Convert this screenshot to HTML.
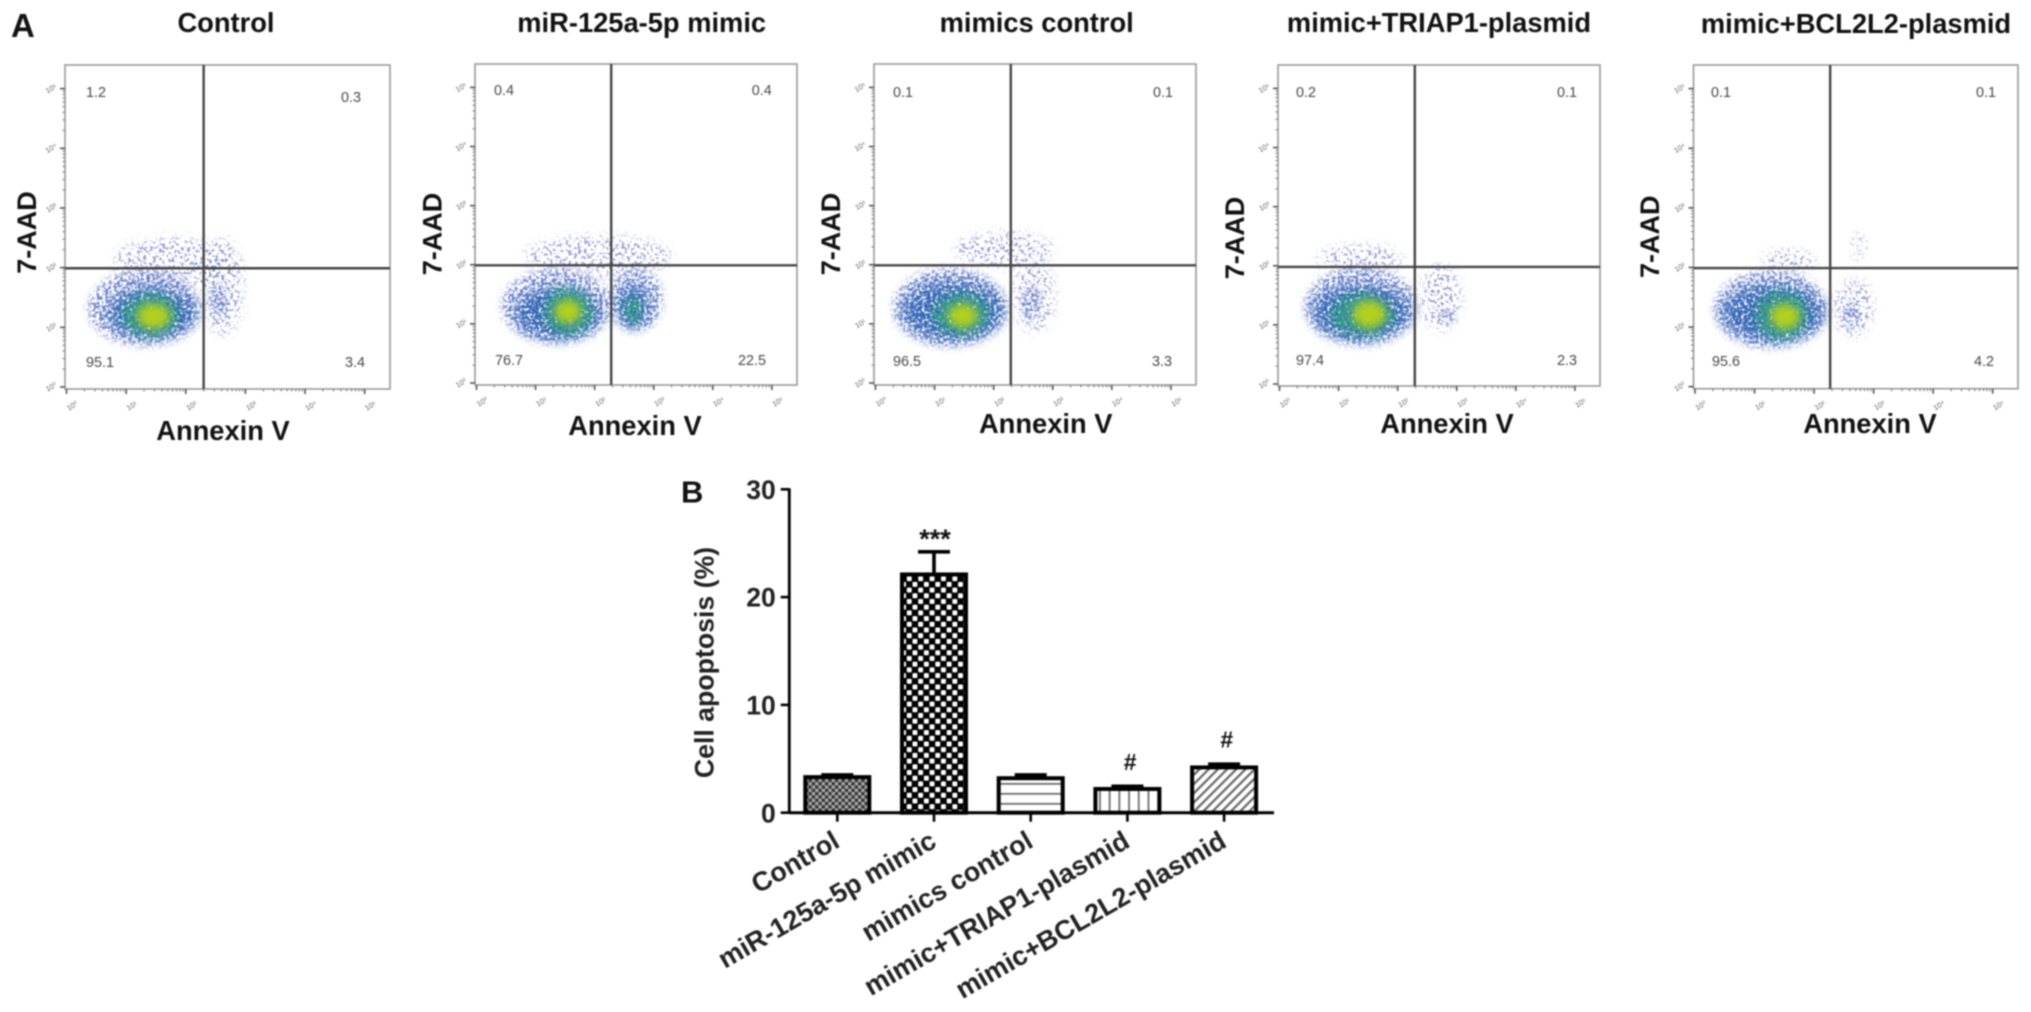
<!DOCTYPE html>
<html>
<head>
<meta charset="utf-8">
<title>Annexin V apoptosis flow cytometry and bar chart</title>
<style>
html,body{margin:0;padding:0;background:#fff;}
#figure{display:block;width:2031px;height:1012px;filter:blur(0.7px);font-family:"Liberation Sans",Arial,sans-serif;}
text{font-family:"Liberation Sans",Arial,sans-serif;}
</style>
</head>
<body>
<svg id="figure" xmlns="http://www.w3.org/2000/svg" width="2031" height="1012" viewBox="0 0 2031 1012">
<defs>
<filter id="speckle-very-sparse" x="-30%" y="-30%" width="160%" height="160%" color-interpolation-filters="sRGB">
<feGaussianBlur in="SourceGraphic" stdDeviation="5" result="soft"/>
<feTurbulence type="fractalNoise" baseFrequency="0.32" numOctaves="2" seed="7" result="noise"/>
<feColorMatrix in="noise" type="matrix" values="0 0 0 0 0 0 0 0 0 0 0 0 0 0 0 12 0 0 0 -6.5" result="mask"/>
<feComposite in="soft" in2="mask" operator="in"/>
</filter>
<filter id="speckle-sparse" x="-30%" y="-30%" width="160%" height="160%" color-interpolation-filters="sRGB">
<feGaussianBlur in="SourceGraphic" stdDeviation="4" result="soft"/>
<feTurbulence type="fractalNoise" baseFrequency="0.34" numOctaves="2" seed="11" result="noise"/>
<feColorMatrix in="noise" type="matrix" values="0 0 0 0 0 0 0 0 0 0 0 0 0 0 0 12 0 0 0 -5.7" result="mask"/>
<feComposite in="soft" in2="mask" operator="in"/>
</filter>
<filter id="speckle-dense" x="-30%" y="-30%" width="160%" height="160%" color-interpolation-filters="sRGB">
<feGaussianBlur in="SourceGraphic" stdDeviation="6" result="soft"/>
<feTurbulence type="fractalNoise" baseFrequency="0.36" numOctaves="2" seed="23" result="noise"/>
<feColorMatrix in="noise" type="matrix" values="0 0 0 0 0 0 0 0 0 0 0 0 0 0 0 9 0 0 0 -3.6" result="mask"/>
<feComposite in="soft" in2="mask" operator="in"/>
</filter>
<filter id="soft-core" x="-50%" y="-50%" width="200%" height="200%" color-interpolation-filters="sRGB">
<feGaussianBlur in="SourceGraphic" stdDeviation="4.5" result="soft"/>
<feTurbulence type="fractalNoise" baseFrequency="0.3" numOctaves="2" seed="31" result="noise"/>
<feColorMatrix in="noise" type="matrix" values="0 0 0 0 0 0 0 0 0 0 0 0 0 0 0 8 0 0 0 -2.9" result="mask"/>
<feComposite in="soft" in2="mask" operator="in"/>
</filter>
<filter id="soft-peak" x="-50%" y="-50%" width="200%" height="200%" color-interpolation-filters="sRGB">
<feGaussianBlur stdDeviation="4.5"/>
</filter>
<pattern id="fill-fine-check" width="6.6" height="6.6" patternUnits="userSpaceOnUse">
<rect width="6.6" height="6.6" fill="#333"/>
<rect x="0" y="0" width="3.3" height="3.3" fill="#aaa"/>
<rect x="3.3" y="3.3" width="3.3" height="3.3" fill="#aaa"/>
</pattern>
<pattern id="fill-coarse-check" width="11.4" height="11.4" patternUnits="userSpaceOnUse">
<rect width="11.4" height="11.4" fill="#000"/>
<rect x="0.5" y="0.5" width="4.9" height="4.9" rx="1" fill="#fff"/>
<rect x="6.2" y="6.2" width="4.9" height="4.9" rx="1" fill="#fff"/>
</pattern>
<pattern id="fill-horizontal" width="10" height="10" patternUnits="userSpaceOnUse">
<rect width="10" height="10" fill="#fff"/>
<rect y="3" width="10" height="1.7" fill="#666"/>
</pattern>
<pattern id="fill-vertical" width="9.7" height="10" patternUnits="userSpaceOnUse">
<rect width="9.7" height="10" fill="#fff"/>
<rect x="3" width="1.7" height="10" fill="#666"/>
</pattern>
<pattern id="fill-diagonal" width="6.5" height="6.5" patternUnits="userSpaceOnUse" patternTransform="rotate(-45)">
<rect width="6.5" height="6.5" fill="#fff"/>
<rect y="0" width="6.5" height="2.2" fill="#666"/>
</pattern>
</defs>
<rect width="2031" height="1012" fill="#fff"/>
<text x="11" y="37" font-size="33" font-weight="700" fill="#111">A</text>
<text x="681" y="502.7" font-size="31" font-weight="700" fill="#111">B</text>
<g id="flow-panels"></g>
<g id="bar-chart"></g>
</svg>
<script>
// ---------- Flow cytometry values ----------
const panelTitles = ['Control', 'miR-125a-5p mimic', 'mimics control', 'mimic+TRIAP1-plasmid', 'mimic+BCL2L2-plasmid'];
const upperLeftPct = ['1.2', '0.4', '0.1', '0.2', '0.1'];
const upperRightPct = ['0.3', '0.4', '0.1', '0.1', '0.1'];
const lowerLeftPct = ['95.1', '76.7', '96.5', '97.4', '95.6'];
const lowerRightPct = ['3.4', '22.5', '3.3', '2.3', '4.2'];
const logTickLabels = ['10⁰', '10¹', '10²', '10³', '10⁴', '10⁵'];
const gateAnnexin = [2.30, 2.28, 2.29, 2.29, 2.27];
const gateAad = [1.99, 1.99, 1.99, 1.98, 1.99];
// Each population: [log Annexin V centre, log 7-AAD centre, log spread x, log spread y, density level 0-4]
const populationsControl = [
  [1.79, 2.08, 1.00, 0.42, 0], [2.63, 1.68, 0.34, 0.81, 0], [1.30, 1.32, 0.94, 0.63, 1],
  [1.43, 1.24, 0.76, 0.42, 2], [2.55, 1.46, 0.14, 0.28, 1], [1.41, 1.21, 0.48, 0.36, 3], [1.46, 1.19, 0.28, 0.21, 4]
];
const populationsMimic = [
  [2.06, 2.14, 1.24, 0.34, 0], [2.70, 1.41, 0.45, 0.53, 1], [1.35, 1.30, 0.93, 0.62, 1],
  [1.38, 1.18, 0.73, 0.45, 2], [2.65, 1.30, 0.28, 0.37, 2], [1.55, 1.21, 0.42, 0.39, 3],
  [2.65, 1.24, 0.14, 0.23, 3], [1.55, 1.21, 0.23, 0.20, 4]
];
const populationsMimicsControl = [
  [2.18, 2.26, 0.84, 0.28, 0], [2.69, 1.48, 0.34, 0.62, 0], [1.26, 1.28, 0.96, 0.66, 1],
  [1.31, 1.22, 0.87, 0.51, 2], [2.64, 1.36, 0.14, 0.28, 1], [1.45, 1.17, 0.48, 0.36, 3], [1.48, 1.14, 0.25, 0.20, 4]
];
const populationsTriap = [
  [1.38, 2.11, 0.73, 0.23, 0], [2.73, 1.46, 0.34, 0.56, 0], [1.38, 1.32, 0.95, 0.65, 1],
  [1.38, 1.21, 0.84, 0.48, 2], [2.84, 1.15, 0.11, 0.11, 1], [1.41, 1.18, 0.54, 0.36, 3], [1.52, 1.18, 0.28, 0.23, 4]
];
const populationsBcl = [
  [1.57, 2.11, 0.45, 0.17, 0], [2.75, 2.35, 0.10, 0.22, 0], [2.66, 1.32, 0.33, 0.48, 0],
  [1.27, 1.30, 0.95, 0.65, 1], [1.31, 1.24, 0.87, 0.48, 2], [2.61, 1.21, 0.11, 0.20, 1],
  [1.45, 1.21, 0.45, 0.41, 3], [1.51, 1.18, 0.25, 0.21, 4]
];
const panelPopulations = [populationsControl, populationsMimic, populationsMimicsControl, populationsTriap, populationsBcl];
const minorLogSteps = [2, 3, 4, 5, 6, 7, 8, 9];

// ---------- Bar chart values ----------
const barCategories = ['Control', 'miR-125a-5p mimic', 'mimics control', 'mimic+TRIAP1-plasmid', 'mimic+BCL2L2-plasmid'];
const barValues = [3.3, 22.1, 3.2, 2.2, 4.2];
const barErrors = [0.2, 2.1, 0.3, 0.25, 0.3];
const barAnnotations = ['', '***', '', '#', '#'];
const yTickValues = [0, 10, 20, 30];

// ---------- Layout (page geometry, separate from data) ----------
const frameLefts = [65, 475, 874, 1278, 1693.5];
const frameRights = [390, 797, 1196, 1600, 2018];
const frameTops = [65, 64, 64, 65, 65];
const frameBottoms = [389, 385, 385, 386, 388.7];
const titleCenters = [226, 641.7, 1036.7, 1439, 1856];
const titleBaselines = [32, 32, 32, 32, 33];
const xTitleCenters = [223, 635, 1045.7, 1447, 1870];
const xTitleBaselines = [440, 435, 433, 433, 433];
const yTitleBaselines = [36, 441.7, 840, 1244, 1659];
const yTitleCenters = [232.5, 234, 234, 238, 236.7];
const labelUpperLeftX = [86, 494, 893, 1296, 1711];
const labelUpperRightX = [341, 751.7, 1153, 1557, 1976];
const labelLowerLeftX = [86, 495, 893, 1296, 1712];
const labelLowerRightX = [345, 738, 1152, 1557, 1974];
const labelUpperLeftY = [97, 95, 97, 97, 97];
const labelUpperRightY = [102, 95, 97, 97, 97];
const labelLowerY = [367, 365, 366, 365, 366];
const levelColors = ['#7f88c8', '#5a70c4', '#2a62b4', '#2f9f84', '#b2d01e'];
const levelFilters = ['speckle-very-sparse', 'speckle-sparse', 'speckle-dense', 'soft-core', 'soft-peak'];
const levelOpacity = [0.8, 0.85, 0.95, 0.95, 1];
const levelNames = ['very-sparse', 'sparse', 'dense', 'core', 'peak'];

const SVGNS = 'http://www.w3.org/2000/svg';
function make(tag, parent, attrs, text) {
  const el = document.createElementNS(SVGNS, tag);
  for (const k in attrs) el.setAttribute(k, attrs[k]);
  if (text !== undefined) el.textContent = text;
  parent.appendChild(el);
  return el;
}

const flowRoot = document.getElementById('flow-panels');
const X_DECADES = 5.45, Y_DECADES = 5.43;

panelTitles.forEach(function (title, p) {
  const L = frameLefts[p], R = frameRights[p], T = frameTops[p], B = frameBottoms[p];
  const pxPerX = (R - L) / X_DECADES, pxPerY = (B - T) / Y_DECADES;
  const xScale = function (d) { return L + 1.5 + d * pxPerX; };
  const yScale = function (d) { return B - 2 - d * pxPerY; };

  const g = make('g', flowRoot, {});
  
  

  const titleEl = make('text', g, { x: titleCenters[p], y: titleBaselines[p], 'text-anchor': 'middle', 'font-size': 27.3, 'font-weight': 700, fill: '#111' }, title);
  
  

  const popGroup = make('g', g, {});
  
  
  panelPopulations[p].forEach(function (pop) {
    const e = make('ellipse', popGroup, {
      cx: xScale(pop[0]), cy: yScale(pop[1]),
      rx: pop[2] * pxPerX, ry: pop[3] * pxPerY,
      fill: levelColors[pop[4]], opacity: levelOpacity[pop[4]],
      filter: 'url(#' + levelFilters[pop[4]] + ')'
    });
    
    
  });

  const frame = make('rect', g, { x: L, y: T, width: R - L, height: B - T, fill: 'none', stroke: '#9a9a9a', 'stroke-width': 1.6 });
  
  

  const axes = make('g', g, { stroke: '#777', 'stroke-width': 1 });
  
  
  logTickLabels.forEach(function (lab, d) {
    const tx = xScale(d), ty = yScale(d);
    make('line', axes, { x1: tx, x2: tx, y1: B, y2: B + 5, 'stroke-width': 1.6, stroke: '#555' });
    make('line', axes, { x1: L, x2: L - 5, y1: ty, y2: ty, 'stroke-width': 1.6, stroke: '#555' });
    if (d < 5) {
      minorLogSteps.forEach(function (m) {
        const mx = xScale(d + Math.log10(m)), my = yScale(d + Math.log10(m));
        make('line', axes, { x1: mx, x2: mx, y1: B, y2: B + 2.5 });
        make('line', axes, { x1: L, x2: L - 2.5, y1: my, y2: my });
      });
    }
    const xLab = make('text', g, { x: tx + 7, y: B + 19, 'text-anchor': 'middle', 'font-size': 7.5, fill: '#666', transform: 'rotate(-30 ' + (tx + 7) + ' ' + (B + 19) + ')' }, lab);
    
    
    const yLab = make('text', g, { x: L - 8, y: ty + 2, 'text-anchor': 'end', 'font-size': 7.5, fill: '#666', transform: 'rotate(-30 ' + (L - 13) + ' ' + ty + ')' }, lab);
    
    
  });

  const vGate = make('line', g, { x1: xScale(gateAnnexin[p]), x2: xScale(gateAnnexin[p]), y1: T, y2: B, stroke: '#444', 'stroke-width': 2.4 });
  
  
  const hGate = make('line', g, { x1: L, x2: R, y1: yScale(gateAad[p]), y2: yScale(gateAad[p]), stroke: '#444', 'stroke-width': 2.4 });
  
  

  const pctStyle = { 'font-size': 14.4, fill: '#484848' };
  const ul = make('text', g, Object.assign({ x: labelUpperLeftX[p], y: labelUpperLeftY[p] }, pctStyle), upperLeftPct[p]);
  
  
  const ur = make('text', g, Object.assign({ x: labelUpperRightX[p], y: labelUpperRightY[p] }, pctStyle), upperRightPct[p]);
  
  
  const ll = make('text', g, Object.assign({ x: labelLowerLeftX[p], y: labelLowerY[p] }, pctStyle), lowerLeftPct[p]);
  
  
  const lr = make('text', g, Object.assign({ x: labelLowerRightX[p], y: labelLowerY[p] }, pctStyle), lowerRightPct[p]);
  
  

  const xt = make('text', g, { x: xTitleCenters[p], y: xTitleBaselines[p], 'text-anchor': 'middle', 'font-size': 27.3, 'font-weight': 700, fill: '#111' }, 'Annexin V');
  
  
  const yt = make('text', g, { x: yTitleBaselines[p], y: yTitleCenters[p], 'text-anchor': 'middle', 'font-size': 27, 'font-weight': 700, fill: '#111', transform: 'rotate(-90 ' + yTitleBaselines[p] + ' ' + yTitleCenters[p] + ')' }, '7-AAD');
  
  
});

// ---------- Bar chart ----------
const barRoot = document.getElementById('bar-chart');
const barFills = ['fill-fine-check', 'fill-coarse-check', 'fill-horizontal', 'fill-vertical', 'fill-diagonal'];
const AXIS_X = 789.3, AXIS_Y = 812.7, PX_PER_UNIT = 10.78, FIRST_BAR = 837.3, BAR_STEP = 96.7, BAR_W = 64;
const barY = function (v) { return AXIS_Y - v * PX_PER_UNIT; };
const barX = function (i) { return FIRST_BAR + i * BAR_STEP; };

barValues.forEach(function (v, i) {
  const cx = barX(i);
  const g = make('g', barRoot, {});
  
  
  const err = make('path', g, {
    d: 'M' + cx + ' ' + barY(v) + 'V' + barY(v + barErrors[i]) + 'M' + (cx - 16) + ' ' + barY(v + barErrors[i]) + 'H' + (cx + 16),
    fill: 'none', stroke: '#000', 'stroke-width': 3.6
  });
  
  
  const bar = make('rect', g, { x: cx - BAR_W / 2, y: barY(v), width: BAR_W, height: AXIS_Y - barY(v), fill: 'url(#' + barFills[i] + ')', stroke: '#000', 'stroke-width': 4 });
  
  
  const tick = make('line', g, { x1: cx, x2: cx, y1: AXIS_Y, y2: AXIS_Y + 9, stroke: '#000', 'stroke-width': 2.6 });
  
  
  const lx = cx + 4, ly = 846;
  const lab = make('text', g, { x: lx, y: ly, 'text-anchor': 'end', 'font-size': 27, 'font-weight': 700, fill: '#222', transform: 'rotate(-30 ' + lx + ' ' + ly + ')' }, barCategories[i]);
  
  
  if (barAnnotations[i]) {
    const isStar = barAnnotations[i] === '***';
    const ay = barY(v + barErrors[i]) - (isStar ? 4 : 16.5);
    const a = make('text', g, { x: cx + (isStar ? 1 : 2.7), y: ay, 'text-anchor': 'middle', 'font-size': isStar ? 27 : 23, 'font-weight': 700, fill: '#111' }, barAnnotations[i]);
    
    
  }
});

const yAxis = make('line', barRoot, { x1: AXIS_X, x2: AXIS_X, y1: barY(30) - 1, y2: AXIS_Y + 1, stroke: '#000', 'stroke-width': 2.8 });


const xAxis = make('line', barRoot, { x1: AXIS_X, x2: 1274, y1: AXIS_Y, y2: AXIS_Y, stroke: '#000', 'stroke-width': 3 });


yTickValues.forEach(function (t) {
  const tickEl = make('line', barRoot, { x1: 780.7, x2: AXIS_X, y1: barY(t), y2: barY(t), stroke: '#000', 'stroke-width': 2.6 });
  
  
  const lab = make('text', barRoot, { x: 775.7, y: barY(t) + 9.6, 'text-anchor': 'end', 'font-size': 26.5, 'font-weight': 700, fill: '#222' }, String(t));
  
  
});
const yTitle = make('text', barRoot, { x: 713.3, y: 662.5, 'text-anchor': 'middle', 'font-size': 26.7, 'font-weight': 700, fill: '#222', transform: 'rotate(-90 713.3 662.5)' }, 'Cell apoptosis (%)');


</script>
</body>
</html>
